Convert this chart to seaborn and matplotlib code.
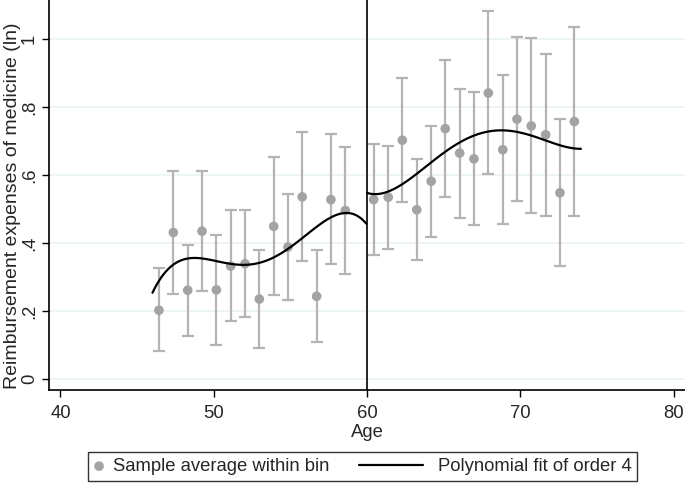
import numpy as np
import pandas as pd
import matplotlib
matplotlib.use("Agg")
import matplotlib.pyplot as plt
import seaborn as sns
from matplotlib.legend_handler import HandlerLine2D

# bin averages (age, mean, 95% CI)
age_bins = [46.42, 47.36, 48.30, 49.23, 50.17, 51.10, 52.04, 52.97, 53.91, 54.84,
            55.77, 56.71, 57.64, 58.58,
            60.43, 61.38, 62.30, 63.24, 64.18, 65.10, 66.04, 66.97, 67.91, 68.85,
            69.78, 70.71, 71.65, 72.58, 73.52]
bin_mean = [0.202, 0.431, 0.261, 0.435, 0.262, 0.332, 0.339, 0.235, 0.449, 0.388,
            0.536, 0.243, 0.528, 0.496,
            0.528, 0.535, 0.703, 0.498, 0.582, 0.737, 0.665, 0.648, 0.842, 0.675,
            0.765, 0.745, 0.719, 0.548, 0.758]
ci_low = [0.082, 0.249, 0.126, 0.258, 0.101, 0.170, 0.183, 0.090, 0.247, 0.231,
          0.348, 0.108, 0.338, 0.309,
          0.364, 0.383, 0.520, 0.349, 0.418, 0.536, 0.475, 0.453, 0.603, 0.455,
          0.523, 0.487, 0.481, 0.333, 0.480]
ci_high = [0.325, 0.613, 0.395, 0.611, 0.423, 0.496, 0.496, 0.380, 0.652, 0.543,
           0.726, 0.380, 0.720, 0.682,
           0.693, 0.687, 0.887, 0.647, 0.746, 0.939, 0.853, 0.844, 1.083, 0.894,
           1.006, 1.004, 0.956, 0.764, 1.035]

# fitted curve, below and above the cutoff
fit_age_left = [46.0, 46.5, 47.4, 48.5, 49.5, 50.6, 51.7, 52.4, 53.5, 54.5,
                55.6, 56.7, 57.8, 58.7, 59.3, 59.95]
fit_val_left = [0.249, 0.296, 0.343, 0.356, 0.353, 0.340, 0.332, 0.333, 0.350, 0.379,
                0.413, 0.448, 0.475, 0.485, 0.479, 0.462]
fit_age_right = [60.0, 60.6, 61.7, 62.8, 63.9, 65.0, 66.1, 66.7, 67.8, 68.9,
                 70.0, 71.1, 72.2, 73.2, 73.95]
fit_val_right = [0.548, 0.544, 0.558, 0.587, 0.629, 0.667, 0.698, 0.711, 0.726, 0.732,
                 0.726, 0.711, 0.693, 0.682, 0.677]

x_ticks = [40, 50, 60, 70, 80]
y_ticks = [0, 0.2, 0.4, 0.6, 0.8, 1.0]
y_tick_labels = ["0", ".2", ".4", ".6", ".8", "1"]

bins = pd.DataFrame({"age": age_bins, "mean": bin_mean, "lo": ci_low, "hi": ci_high})
left = pd.DataFrame({"age": fit_age_left, "fit": fit_val_left})
right = pd.DataFrame({"age": fit_age_right, "fit": fit_val_right})

sns.set_style("white")
plt.rcParams["font.family"] = ["Liberation Sans", "DejaVu Sans"]
fs = 13.3

fig = plt.figure(figsize=(6.85, 4.84), dpi=100)
ax = fig.add_axes([49 / 685, 94 / 484, 1 - 49 / 685, 1 - 94 / 484])

for y in y_ticks:
    ax.axhline(y, color="#eaf2f3", lw=1.2, zorder=0)

ax.errorbar(bins["age"], bins["mean"],
            yerr=[bins["mean"] - bins["lo"], bins["hi"] - bins["mean"]],
            fmt="none", ecolor="#b4b4b4", elinewidth=1.6, capsize=4.5, capthick=1.6, zorder=2)
sns.scatterplot(data=bins, x="age", y="mean", ax=ax, color="#a3a3a3", s=48,
                edgecolor="none", zorder=3, label="Sample average within bin")

sns.regplot(data=left, x="age", y="fit", order=4, ci=None, scatter=False, truncate=True,
            ax=ax, label="Polynomial fit of order 4",
            line_kws={"color": "black", "lw": 1.6, "zorder": 4})
sns.regplot(data=right, x="age", y="fit", order=4, ci=None, scatter=False, truncate=True,
            ax=ax, line_kws={"color": "black", "lw": 1.6, "zorder": 4})

ax.axvline(60, color="black", lw=1.2, zorder=5)

ax.set_xlim(39.25, 80.74)
ax.set_ylim(-0.033, 1.116)
ax.set_xticks(x_ticks)
ax.set_yticks(y_ticks)
ax.set_yticklabels(y_tick_labels, rotation=90, va="center")
ax.tick_params(axis="both", which="major", length=5, width=1, color="black",
               labelsize=fs, bottom=True, left=True, direction="out")
ax.tick_params(axis="x", pad=5.5)
ax.tick_params(axis="y", pad=3)
ax.set_xlabel("Age", fontsize=fs, labelpad=1.5)
ax.set_ylabel("Reimbursement expenses of medicine (ln)", fontsize=14)
ax.yaxis.set_label_coords(-0.044, (390 - 206) / 390)

sns.despine(ax=ax)
for s in ["left", "bottom"]:
    ax.spines[s].set_color("black")
    ax.spines[s].set_linewidth(1.2)


class LongLine(HandlerLine2D):
    # legend line runs further to the left than the handle box
    def create_artists(self, legend, orig_handle, xdescent, ydescent, width, height,
                       fontsize, trans):
        extra = 3.2 * fontsize
        shift = 0.35 * fontsize
        return super().create_artists(legend, orig_handle, xdescent + extra, ydescent,
                                      width + extra - shift, height, fontsize, trans)


handles, labels = ax.get_legend_handles_labels()
if ax.get_legend() is not None:
    ax.get_legend().remove()
handler_map = {h: LongLine() for h in handles if isinstance(h, matplotlib.lines.Line2D)}
leg = fig.legend(handles, labels, loc="center left", bbox_to_anchor=(88 / 685, 1 - 466.5 / 484),
                 ncol=2, fontsize=fs, frameon=True, fancybox=False, edgecolor="black",
                 handlelength=0.6, handletextpad=0.46, columnspacing=4.8, borderpad=0.3,
                 borderaxespad=0, scatterpoints=1, handler_map=handler_map)
leg.get_frame().set_linewidth(1.0)

fig.savefig("out.png", dpi=100)
